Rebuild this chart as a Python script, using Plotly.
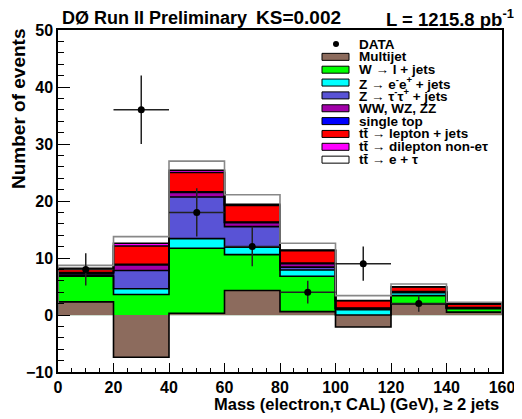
import numpy as np
import plotly.graph_objects as go

# bins of the mass histogram (GeV)
bin_edges = [0, 20, 40, 60, 80, 100, 120, 140, 160]
bin_centres = [10, 30, 50, 70, 90, 110, 130, 150]

# observed events
data_counts = [8, 36, 18, 12, 4, 9, 2, 0]

# background / signal expectations per bin
multijet = [2.3, -7.4, 0.3, 4.3, 0.6, -2.1, 1.95, 0.5]
w_jets = [4.5, 11.0, 11.4, 6.3, 6.2, 2.1, 1.45, 0.6]
z_ee = [0.2, 1.0, 1.7, 1.3, 1.1, 0.95, 0.5, 0.1]
z_tautau = [0.3, 3.2, 7.3, 3.6, 0.5, 0.15, 0.1, 0.05]
diboson = [0.1, 1.0, 0.8, 0.7, 0.6, 0.05, 0.05, 0.02]
single_top = [0.05, 0.1, 0.1, 0.1, 0.1, 0.05, 0.05, 0.03]
tt_ljets = [0.65, 3.2, 3.4, 2.9, 2.2, 1.3, 0.8, 0.6]
tt_dilep = [0.1, 0.5, 0.4, 0.2, 0.1, 0.05, 0.05, 0.05]
tt_etau = [0.5, 1.15, 1.6, 1.7, 1.2, 0.85, 0.5, 0.3]

layers = [
    ("Multijet", multijet, "#8c6b5d"),
    ("W \u2192 l + jets", w_jets, "#00ff00"),
    ("Z \u2192 e<sup>-</sup>e<sup>+</sup> + jets", z_ee, "#00ffff"),
    ("Z \u2192 \u03c4<sup>-</sup>\u03c4<sup>+</sup> + jets", z_tautau, "#5953d6"),
    ("WW, WZ, ZZ", diboson, "#a100a8"),
    ("single top", single_top, "#0000ff"),
    ("tt\u0304 \u2192 lepton + jets", tt_ljets, "#ff0000"),
    ("tt\u0304 \u2192 dilepton non-e\u03c4", tt_dilep, "#ff00ff"),
    ("tt\u0304 \u2192 e + \u03c4", tt_etau, "#ffffff"),
]

FONT = "Liberation Sans, Arial, Helvetica, sans-serif"

# cumulative sums, like a ROOT THStack
cum = np.cumsum(np.array([l[1] for l in layers]), axis=0)

fig = go.Figure()

# fills: biggest cumulative first, lower ones drawn over it
for i in reversed(range(len(layers))):
    fig.add_trace(go.Bar(x=bin_centres, y=cum[i], width=20,
                         marker=dict(color=layers[i][2], line=dict(width=0)),
                         showlegend=False, hoverinfo="skip"))

# staircase outlines
for i in range(len(layers)):
    ys = list(cum[i])
    xs = [bin_edges[0]] + bin_edges[:-1] + [bin_edges[-1], bin_edges[-1]]
    yy = [0] + ys + [ys[-1], 0]
    col = "#888888" if i == len(layers) - 1 else "black"
    fig.add_trace(go.Scatter(x=xs, y=yy, mode="lines", line=dict(color=col, width=1.6, shape="hv"),
                             showlegend=False, hoverinfo="skip"))

# data points (empty bins not drawn)
dx = [c for c, n in zip(bin_centres, data_counts) if n > 0]
dy = [n for n in data_counts if n > 0]
fig.add_trace(go.Scatter(x=dx, y=dy, mode="markers",
                         marker=dict(color="black", size=7),
                         error_y=dict(type="data", array=list(np.sqrt(dy)), color="#222222", thickness=1.5, width=0),
                         error_x=dict(type="constant", value=10, color="#222222", thickness=1.5, width=0),
                         showlegend=False))

# window pixel -> paper helpers (plot frame sits at x 58..502, y 30..372 of the window)
def px(x):
    return (x - 58) / 444.0

def py(y):
    return (372 - y) / 342.0

shapes = []
annotations = []

# hand-made legend, ROOT style
leg_font = dict(family=FONT, size=13.5, color="black", weight="bold")
leg_y0 = 44
leg_step = 12.85
shapes.append(dict(type="circle", xref="paper", yref="paper",
                   x0=px(333), x1=px(339), y0=py(leg_y0 + 3), y1=py(leg_y0 - 3),
                   fillcolor="black", line=dict(color="black", width=0)))
annotations.append(dict(text="DATA", x=px(357), y=py(leg_y0), xref="paper", yref="paper",
                        xanchor="left", yanchor="middle", showarrow=False, font=leg_font))
for k, (name, vals, colour) in enumerate(layers):
    yc = leg_y0 + leg_step * (k + 1)
    shapes.append(dict(type="rect", xref="paper", yref="paper",
                       x0=px(322), x1=px(349), y0=py(yc + 3.5), y1=py(yc - 3.5),
                       fillcolor=colour, line=dict(color="black", width=1)))
    annotations.append(dict(text=name, x=px(357), y=py(yc), xref="paper", yref="paper",
                            xanchor="left", yanchor="middle", showarrow=False, font=leg_font))

# titles
annotations.append(dict(text="D\u00d8 Run II Preliminary", x=px(60), y=py(18), xref="paper", yref="paper",
                        xanchor="left", yanchor="middle", showarrow=False,
                        font=dict(family=FONT, size=18, color="black", weight="bold")))
annotations.append(dict(text="KS=0.002", x=px(254), y=py(18), xref="paper", yref="paper",
                        xanchor="left", yanchor="middle", showarrow=False,
                        font=dict(family=FONT, size=19, color="black", weight="bold")))
annotations.append(dict(text="L = 1215.8 pb<sup>-1</sup>", x=px(516), y=py(18), xref="paper", yref="paper",
                        xanchor="right", yanchor="middle", showarrow=False,
                        font=dict(family=FONT, size=18.5, color="black", weight="bold")))
annotations.append(dict(text="Mass (electron,\u03c4 CAL) (GeV), \u2265 2 jets", x=px(501), y=py(404),
                        xref="paper", yref="paper", xanchor="right", yanchor="middle", showarrow=False,
                        font=dict(family=FONT, size=16.5, color="black", weight="bold")))
annotations.append(dict(text="Number of events", x=px(19), y=py(27), xref="paper", yref="paper",
                        xanchor="center", yanchor="top", textangle=-90, showarrow=False,
                        font=dict(family=FONT, size=19, color="black", weight="bold")))

tick_font = dict(family=FONT, size=16, color="black", weight="bold")

# the page body adds an 8px margin, so the figure is 8px smaller than the window
fig.update_layout(
    width=514, height=411,
    margin=dict(l=50, r=20, t=22, b=47),
    barmode="overlay", bargap=0,
    plot_bgcolor="white", paper_bgcolor="white",
    showlegend=False,
    shapes=shapes, annotations=annotations,
    xaxis=dict(range=[0, 160], tickvals=bin_edges, ticks="inside", ticklen=9, tickwidth=1,
               tickcolor="black", showline=True, mirror=True, linecolor="black", linewidth=1.5,
               showgrid=False, zeroline=False, tickfont=tick_font, automargin=False,
               minor=dict(ticks="inside", ticklen=4, dtick=5, tickwidth=1, tickcolor="black", showgrid=False)),
    yaxis=dict(range=[-10, 50], tickvals=[-10, 0, 10, 20, 30, 40, 50], ticks="inside", ticklen=12,
               tickwidth=1, tickcolor="black", showline=True, mirror=True, linecolor="black", linewidth=1.5,
               showgrid=False, zeroline=True, zerolinecolor="#cfdccf", zerolinewidth=1, tickfont=tick_font,
               automargin=False,
               minor=dict(ticks="inside", ticklen=6, dtick=2, tickwidth=1, tickcolor="black", showgrid=False)),
)

fig.write_html("out.html")
